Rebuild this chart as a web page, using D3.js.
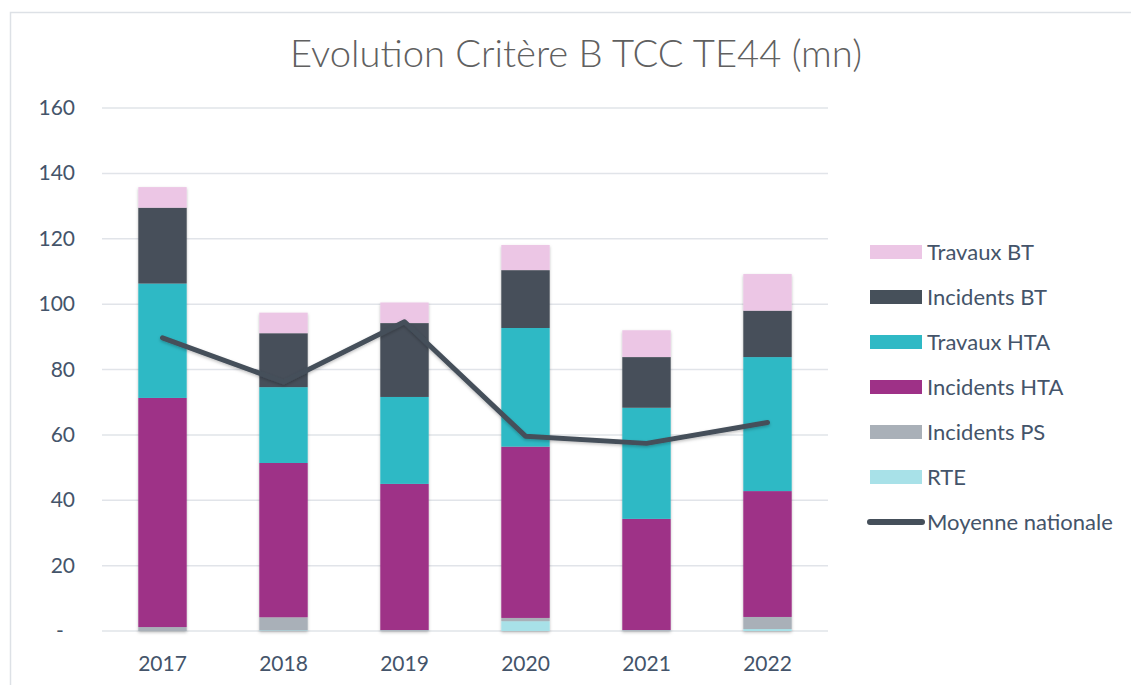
<!DOCTYPE html>
<meta charset="utf-8">
<style>
body { margin: 0; background: #fff; }
svg { font-family: "Lato", "Open Sans", sans-serif; }
.grid line { stroke: #e1e4e9; stroke-width: 1.5; }
.tick-label { fill: #44546a; font-size: 21px; }
.title { fill: #606060; font-size: 37px; font-weight: 300; }
.legend text { fill: #44546a; font-size: 22px; }
</style>
<div class="chart"></div>
<script src="https://cdn.jsdelivr.net/npm/d3@7"></script>
<script>

var years = ["2017", "2018", "2019", "2020", "2021", "2022"];
var yTicks = [0, 20, 40, 60, 80, 100, 120, 140, 160];

// stacked from bottom to top
var rte          = [0.0, 0.2, 0.1, 3.0, 0.1, 0.6];
var incidentsPS  = [1.2, 4.0, 0.2, 1.0, 0.2, 3.7];
var incidentsHTA = [70.1, 47.2, 44.7, 52.4, 34.0, 38.5];
var travauxHTA   = [35.0, 23.2, 26.6, 36.3, 34.0, 41.0];
var incidentsBT  = [23.2, 16.5, 22.6, 17.7, 15.5, 14.2];
var travauxBT    = [6.3, 6.3, 6.3, 7.7, 8.2, 11.2];
var moyenne      = [89.7, 76.2, 94.6, 59.6, 57.4, 63.8];

var seriesNames = ["RTE", "Incidents PS", "Incidents HTA", "Travaux HTA", "Incidents BT", "Travaux BT"];
var seriesColors = ["#a8e1e8", "#a9b0b8", "#9e3187", "#2fb9c5", "#46505a", "#ecc6e5"];
var seriesValues = [rte, incidentsPS, incidentsHTA, travauxHTA, incidentsBT, travauxBT];

var width = 1131, height = 685;
var plotLeft = 102, plotRight = 828, plotTop = 108, plotBottom = 631;

var rows = years.map(function(y, i) {
  var r = {year: y};
  seriesNames.forEach(function(n, k) { r[n] = seriesValues[k][i]; });
  return r;
});

var stacked = d3.stack().keys(seriesNames)(rows);

var x = d3.scaleBand().domain(years).range([plotLeft, plotRight]).paddingInner(0.6).paddingOuter(0.3);
var y = d3.scaleLinear().domain([0, 160]).range([plotBottom, plotTop]);

var svg = d3.select(".chart").append("svg")
    .attr("width", width)
    .attr("height", height);

var defs = svg.append("defs");
var f = defs.append("filter").attr("id", "shadow")
    .attr("x", "-20%").attr("y", "-20%").attr("width", "140%").attr("height", "140%");
f.append("feDropShadow").attr("dx", 0).attr("dy", 1.5).attr("stdDeviation", 1.5)
    .attr("flood-color", "#000").attr("flood-opacity", 0.25);

// chart frame
svg.append("rect")
    .attr("x", 10.5).attr("y", 12.5)
    .attr("width", 1140).attr("height", 700)
    .attr("fill", "none").attr("stroke", "#dde1e6").attr("stroke-width", 1.5);

svg.append("text")
    .attr("class", "title")
    .attr("x", 576).attr("y", 67)
    .attr("text-anchor", "middle")
    .attr("textLength", 572)
    .attr("lengthAdjust", "spacingAndGlyphs")
    .text("Evolution Critère B TCC TE44 (mn)");

// gridlines
svg.append("g").attr("class", "grid")
  .selectAll("line")
  .data(yTicks)
  .enter().append("line")
    .attr("x1", plotLeft).attr("x2", plotRight)
    .attr("y1", function(d) { return y(d); })
    .attr("y2", function(d) { return y(d); });

// y labels
svg.append("g")
  .selectAll("text")
  .data(yTicks)
  .enter().append("text")
    .attr("class", "tick-label")
    .attr("x", function(d) { return d === 0 ? 60 : 75; })
    .attr("y", function(d) { return y(d) + 7; })
    .attr("text-anchor", function(d) { return d === 0 ? "middle" : "end"; })
    .text(function(d) { return d === 0 ? "-" : d; });

// x labels
svg.append("g")
  .selectAll("text")
  .data(years)
  .enter().append("text")
    .attr("class", "tick-label")
    .attr("x", function(d) { return x(d) + x.bandwidth() / 2; })
    .attr("y", 671)
    .attr("text-anchor", "middle")
    .text(function(d) { return d; });

// bars
var bars = svg.append("g").attr("filter", "url(#shadow)");
stacked.forEach(function(s, k) {
  bars.append("g")
      .attr("fill", seriesColors[k])
    .selectAll("rect")
    .data(s)
    .enter().append("rect")
      .attr("x", function(d) { return x(d.data.year); })
      .attr("width", x.bandwidth())
      .attr("y", function(d) { return y(d[1]); })
      .attr("height", function(d) { return y(d[0]) - y(d[1]); });
});

// national average line
var line = d3.line()
    .x(function(d, i) { return x(years[i]) + x.bandwidth() / 2; })
    .y(function(d) { return y(d); });

svg.append("path")
    .datum(moyenne)
    .attr("d", line)
    .attr("fill", "none")
    .attr("stroke", "#454f5a")
    .attr("stroke-width", 5)
    .attr("stroke-linecap", "round")
    .attr("stroke-linejoin", "round")
    .attr("filter", "url(#shadow)");

// legend
var legendItems = seriesNames.slice().reverse().map(function(n) {
  return {name: n, color: seriesColors[seriesNames.indexOf(n)], type: "rect"};
});
legendItems.push({name: "Moyenne nationale", color: "#454f5a", type: "line"});

var legend = svg.append("g").attr("class", "legend")
  .selectAll("g")
  .data(legendItems)
  .enter().append("g")
    .attr("transform", function(d, i) { return "translate(870," + (252 + i * 45) + ")"; });

legend.filter(function(d) { return d.type === "rect"; })
  .append("rect")
    .attr("x", 0).attr("y", -7)
    .attr("width", 52).attr("height", 14)
    .attr("fill", function(d) { return d.color; });

legend.filter(function(d) { return d.type === "line"; })
  .append("line")
    .attr("x1", 0).attr("x2", 52)
    .attr("y1", 0).attr("y2", 0)
    .attr("stroke", function(d) { return d.color; })
    .attr("stroke-width", 6)
    .attr("stroke-linecap", "round");

legend.append("text")
    .attr("x", 57)
    .attr("y", 8)
    .text(function(d) { return d.name; });

</script>
